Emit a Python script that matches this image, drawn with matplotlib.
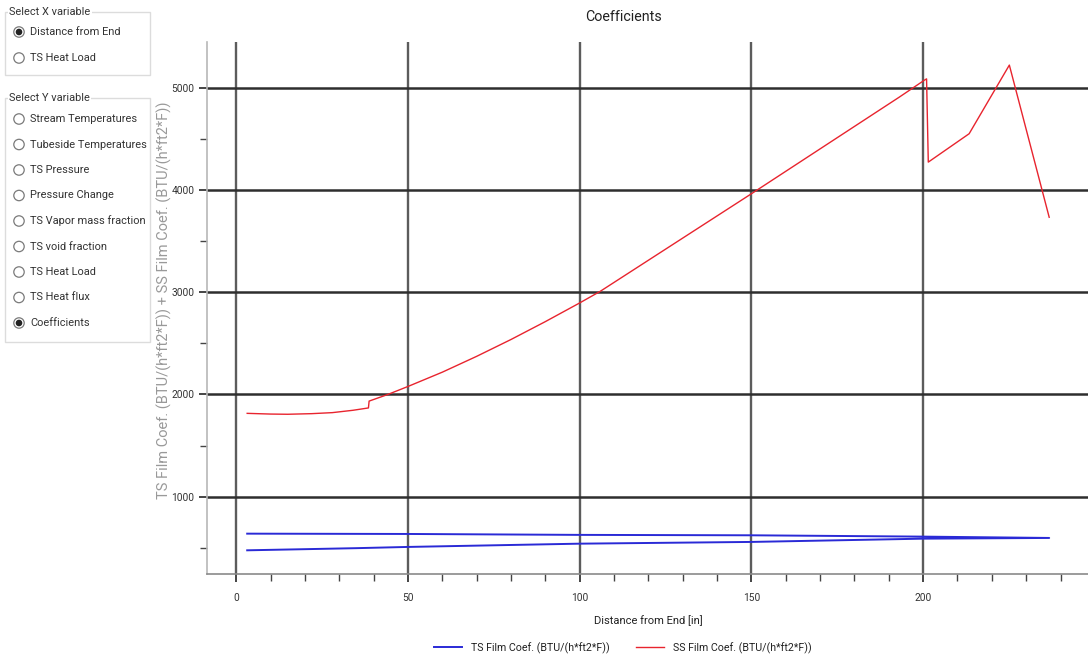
import matplotlib
matplotlib.use("Agg")
import matplotlib.pyplot as plt
from matplotlib.patches import Circle, Rectangle
from matplotlib.ticker import MultipleLocator

plt.rcParams['font.family'] = ['Roboto', 'DejaVu Sans']

# ---- data -----------------------------------------------------------------
# Shellside film coefficient along the exchanger
ss_x = [3.2, 10, 15, 22, 28, 34, 38.5, 38.7, 44, 50, 60, 70, 80, 90, 100,
        106, 150, 193, 200.5, 201.0, 201.5, 213.4, 225.1, 236.7]
ss_y = [1815, 1808, 1806, 1812, 1822, 1845, 1868, 1935, 1998, 2078, 2218,
        2373, 2538, 2713, 2896, 3010, 3965, 4910, 5080, 5090, 4275, 4553,
        5225, 3735]

# Tubeside film coefficient (outbound pass then return pass)
ts_x = [3.2, 20, 35, 50, 100, 150, 200, 236.7, 200, 150, 100, 50, 3.2]
ts_y = [474, 485, 495, 507, 539, 556, 588, 595, 608, 621, 625, 634, 637]

x_major = [0, 50, 100, 150, 200]
y_major = [1000, 2000, 3000, 4000, 5000]

ts_label = "TS Film Coef. (BTU/(h*ft2*F))"
ss_label = "SS Film Coef. (BTU/(h*ft2*F))"

x_options = ["Distance from End", "TS Heat Load"]
x_selected = 0
y_options = ["Stream Temperatures", "Tubeside Temperatures", "TS Pressure",
             "Pressure Change", "TS Vapor mass fraction", "TS void fraction",
             "TS Heat Load", "TS Heat flux", "Coefficients"]
y_selected = 8

# ---- figure ---------------------------------------------------------------
W, H = 1088, 664
fig = plt.figure(figsize=(W / 100, H / 100), dpi=100)
fig.patch.set_facecolor('white')

left, right, top, bottom = 207, 1088, 42, 574
ax = fig.add_axes([left / W, 1 - bottom / H, (right - left) / W, (bottom - top) / H])

ax.plot(ts_x, ts_y, color='#2a2ad6', lw=1.4, label=ts_label, zorder=3)
ax.plot(ss_x, ss_y, color='#e8242e', lw=1.0, label=ss_label, zorder=3)

ax.set_xlim(-8.5, 248)
ax.set_ylim(242, 5451)
ax.set_xticks(x_major)
ax.set_yticks(y_major)
ax.xaxis.set_minor_locator(MultipleLocator(10))
ax.yaxis.set_minor_locator(MultipleLocator(500))

ax.grid(False)
for xv in x_major:
    ax.axvline(xv, color='#5c5c5c', lw=1.7, zorder=1)
for yv in y_major:
    ax.axhline(yv, color='#2e2e2e', lw=1.8, zorder=1)

for s in ('top', 'right'):
    ax.spines[s].set_visible(False)
ax.spines['left'].set_color('#b8b8b8')
ax.spines['left'].set_linewidth(1.2)
ax.spines['bottom'].set_color('#8a8a8a')
ax.spines['bottom'].set_linewidth(1.2)

ax.tick_params(axis='both', which='major', length=6, width=1.4, color='#444444',
               labelsize=7.3, labelcolor='#333333', direction='out')
ax.tick_params(axis='both', which='minor', length=5, width=1.0, color='#444444',
               direction='out')
ax.tick_params(axis='x', which='major', pad=8)
ax.tick_params(axis='y', which='major', pad=3)

ax.set_xlabel("Distance from End [in]", fontsize=8, color='#222222')
ax.xaxis.set_label_coords((648 - left) / (right - left), -(621 - bottom) / (bottom - top))
ax.xaxis.label.set_va('center')

ax.set_ylabel("TS Film Coef. (BTU/(h*ft2*F)) + SS Film Coef. (BTU/(h*ft2*F))",
              fontsize=10.5, color='#999999')
ax.yaxis.set_label_coords(-(left - 172) / (right - left), (bottom - 300) / (bottom - top))

fig.text(623 / W, 1 - 17 / H, "Coefficients", ha='center', va='center',
         fontsize=10.3, color='#222222')

fig.legend(loc='center', bbox_to_anchor=(623 / W, 1 - 648 / H), ncol=2,
           frameon=False, fontsize=7.7, handlelength=2.6, columnspacing=2.5,
           handletextpad=0.85, labelcolor='#222222')

# ---- selector panel -------------------------------------------------------
ui = fig.add_axes([0, 0, 1, 1], zorder=5)
ui.set_xlim(0, W)
ui.set_ylim(H, 0)
ui.axis('off')
ui.patch.set_alpha(0)


def group_box(y0, y1, title, options, selected, row0, step):
    ui.add_patch(Rectangle((5, y0), 145, y1 - y0, fill=False,
                           edgecolor='#dcdcdc', lw=1.0))
    ui.text(9, y0, title, ha='left', va='center', fontsize=7.9,
            color='#333333', bbox=dict(facecolor='white', edgecolor='none', pad=1))
    for i, name in enumerate(options):
        yy = row0 + i * step
        ui.add_patch(Circle((19, yy), 5.2, fill=False, edgecolor='#7a7a7a', lw=0.9))
        if i == selected:
            ui.add_patch(Circle((19, yy), 2.6, color='#222222'))
        ui.text(30, yy, name, ha='left', va='center', fontsize=7.9, color='#333333')


group_box(12, 75, "Select X variable", x_options, x_selected, 32, 26)
group_box(98, 342, "Select Y variable", y_options, y_selected, 119, 25.5)

fig.savefig("out.png", dpi=100, facecolor='white')
